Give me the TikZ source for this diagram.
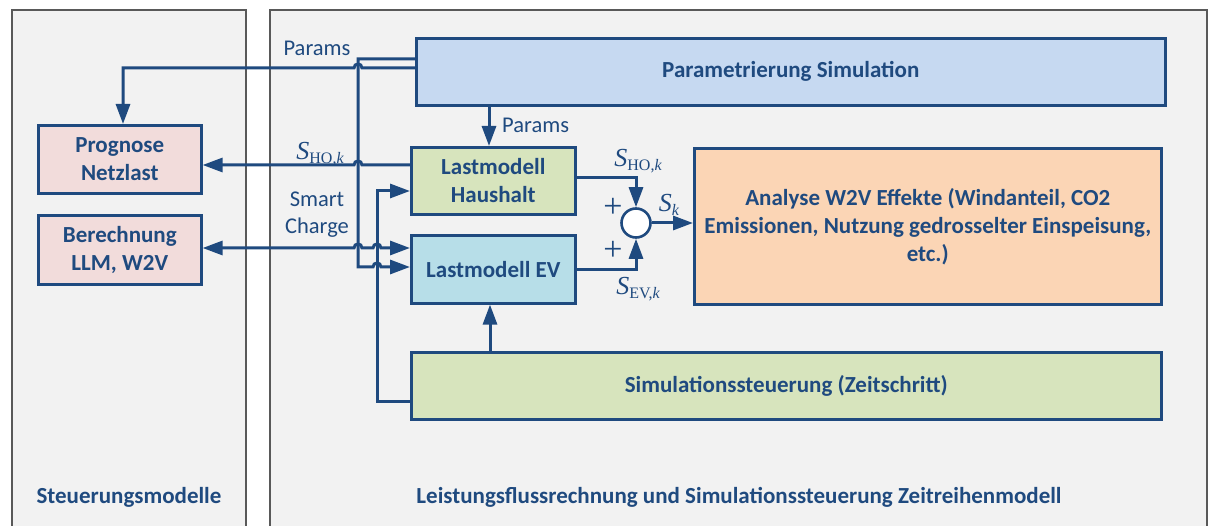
\documentclass[tikz,border=0pt]{standalone}
\usepackage{fontspec}
\setmainfont{Carlito}
\newfontfamily\symfont{Liberation Serif}
\usetikzlibrary{arrows.meta}
\definecolor{panelfill}{HTML}{F2F2F2}
\definecolor{panelline}{HTML}{595959}
\definecolor{navy}{HTML}{1F4A7F}
\definecolor{fillblue}{HTML}{C6D9F1}
\definecolor{fillpink}{HTML}{F2DCDB}
\definecolor{fillgreen}{HTML}{D7E4BD}
\definecolor{fillcyan}{HTML}{B7DEE8}
\definecolor{fillpeach}{HTML}{FBD5B5}
% power symbol S with an upright/italic subscript
\newcommand{\powsym}[1]{{\symfont\fontsize{26}{26}\selectfont\itshape S}{\symfont\fontsize{16}{16}\selectfont\raisebox{-4pt}{#1}}}
\begin{document}
\begin{tikzpicture}[x=1pt,y=-1pt,
  panel/.style={draw=panelline, fill=panelfill, line width=2.2pt},
  block/.style={draw=navy, line width=2.6pt, text=navy, align=center,
    font=\fontsize{23}{28}\selectfont\bfseries, inner sep=0pt, anchor=north west},
  label/.style={text=navy, inner sep=0pt, align=center, font=\fontsize{22.5}{27}\selectfont},
  caption/.style={text=navy, inner sep=0pt, font=\fontsize{23}{27}\selectfont\bfseries},
  symb/.style={text=navy, inner sep=0pt},
  plus/.style={text=navy, inner sep=0pt},
  flow/.style={draw=navy, line width=3pt, line join=miter, -{Triangle[length=20pt,width=14pt]}},
  link/.style={draw=navy, line width=3pt, line join=miter},
  sumnode/.style={circle, draw=navy, fill=white, line width=2.6pt, minimum size=29pt, inner sep=0pt}]
\useasboundingbox (0,0) rectangle (1208,526);
\fill[white] (0,0) rectangle (1208,526);

% panels
\draw[panel] (12,10) rectangle (246,540);
\draw[panel] (270,10) rectangle (1207,540);
\node[caption] (capL) at (129,497) {Steuerungsmodelle};
\node[caption] (capR) at (739,497) {Leistungsflussrechnung und Simulationssteuerung Zeitreihenmodell};

% blocks
\node[block, fill=fillblue, minimum width=749pt, minimum height=67pt] (param) at (415,37) {Parametrierung Simulation};
\node[block, fill=fillpink, minimum width=163pt, minimum height=68pt] (prog) at (37,124) {Prognose\\Netzlast};
\node[block, fill=fillpink, minimum width=163pt, minimum height=69pt] (calc) at (37,214) {Berechnung\\LLM, W2V};
\node[block, fill=fillgreen, minimum width=164pt, minimum height=67pt] (haus) at (410,146) {Lastmodell\\Haushalt};
\node[block, fill=fillcyan, minimum width=164pt, minimum height=68pt] (ev) at (410,234) {Lastmodell EV};
\node[block, fill=fillgreen, minimum width=750pt, minimum height=67pt] (sim) at (410,351) {Simulationssteuerung (Zeitschritt)};
\node[block, fill=fillpeach, minimum width=467pt, minimum height=156pt] (ana) at (693,147)
  {Analyse W2V Effekte (Windanteil, CO2\\Emissionen, Nutzung gedrosselter Einspeisung,\\etc.)};
\node[sumnode] (sum) at (636,223) {};

% routing rows and columns
\coordinate (yParA) at (0,59);
\coordinate (yParB) at (0,68);
\coordinate (yHO) at (0,165);
\coordinate (yHin) at (0,191);
\coordinate (ySC) at (0,248);
\coordinate (yEVin) at (0,267);
\coordinate (ySim) at (0,402);
\coordinate (yHout) at (0,178);
\coordinate (yEVout) at (0,270);
\coordinate (xProg) at (123,0);
\coordinate (xParDown) at (489,0);
\coordinate (xSimUp) at (490,0);
\coordinate (xSum) at (636,0);

% parameters to the forecast (hops over the column at x=358)
\draw[flow] (param.west |- yParB) -- (362,68) .. controls (362,62.7) and (354,62.7) .. (354,68)
  -- (xProg |- yParB) -- (xProg |- prog.north);
% parameters to the EV model
\draw[flow] (param.west |- yParA) -- (358,59) -- (358,267) -- (373,267)
  .. controls (373,261.7) and (381,261.7) .. (381,267) -- (ev.west |- yEVin);
% parameters to the household model
\draw[flow] (xParDown |- param.south) -- (xParDown |- haus.north);
\node[label, anchor=west] (parLbl) at (502,125) {Params};
\node[label] (parTop) at (317,48) {Params};

% household load to the forecast
\draw[flow] (haus.west |- yHO) -- (362,165) .. controls (362,159.7) and (354,159.7) .. (354,165)
  -- (prog.east |- yHO);
\node[symb] (hoL) at (320,154) {\powsym{HO,\itshape k}};

% smart charging exchange
\draw[link, {Triangle[length=20pt,width=14pt]}-{Triangle[length=20pt,width=14pt]}]
  (calc.east |- ySC) -- (354,248) .. controls (354,242.7) and (362,242.7) .. (362,248)
  -- (373,248) .. controls (373,242.7) and (381,242.7) .. (381,248) -- (ev.west |- ySC);
\node[label] (scLbl) at (317,215) {Smart\\Charge};

% time step control
\draw[flow] (sim.west |- ySim) -- (377,402) -- (377,191) -- (haus.west |- yHin);
\draw[flow] (xSimUp |- sim.north) -- (xSimUp |- ev.south);

% summation of the loads
\draw[flow] (haus.east |- yHout) -- (xSum |- yHout) -- (sum.north);
\draw[flow] (ev.east |- yEVout) -- (xSum |- yEVout) -- (sum.south);
\draw[flow] (sum.east) -- (ana.west |- sum);
\node[symb] (hoR) at (638,161) {\powsym{HO,\itshape k}};
\node[symb] (evR) at (638,289) {\powsym{EV,\itshape k}};
\node[symb] (skLbl) at (669,205) {\powsym{\itshape k}};
\node[plus] (plusA) at (613,208) {\symfont\fontsize{34}{34}\selectfont +};
\node[plus] (plusB) at (613,251) {\symfont\fontsize{34}{34}\selectfont +};
\end{tikzpicture}
\end{document}
